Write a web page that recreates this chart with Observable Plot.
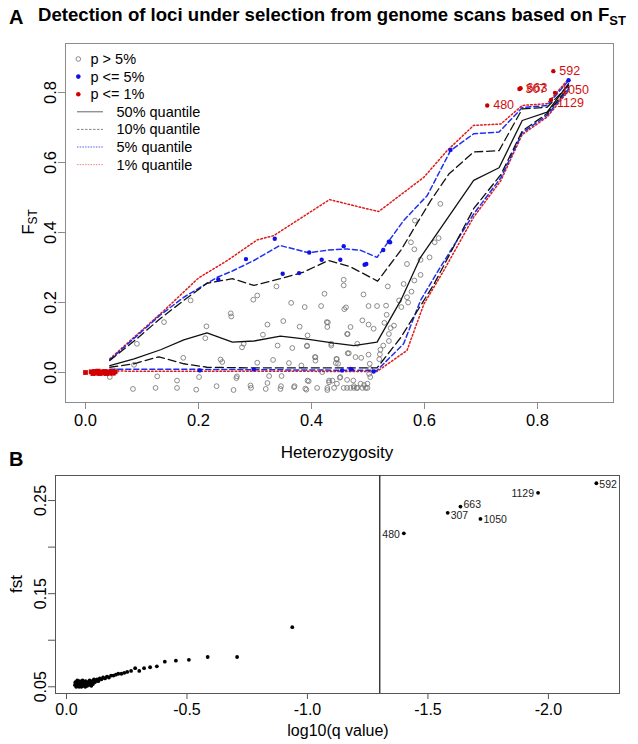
<!DOCTYPE html>
<html><head><meta charset="utf-8">
<script src="https://cdn.jsdelivr.net/npm/d3@7"></script>
<script src="https://cdn.jsdelivr.net/npm/@observablehq/plot@0.6"></script>
<style>
body{margin:0;background:#fff;}
#wrap{position:relative;width:638px;height:744px;font-family:"Liberation Sans",Arial,sans-serif;color:#000;overflow:hidden;background:#fff}
.abs{position:absolute;white-space:nowrap;line-height:1}
.abs sub{font-size:0.7em;vertical-align:-0.3em;line-height:0}
#wrap svg{position:absolute;left:0}
</style></head><body><div id="wrap"></div>
<script>
// ---------- Panel A data (heterozygosity, Fst) ----------
const xTicksA = [0, 0.2, 0.4, 0.6, 0.8];
const yTicksA = [0, 0.2, 0.4, 0.6, 0.8];

const q50 = [[0.043,0.02],[0.086,0.039],[0.133,0.065],[0.174,0.093],[0.215,0.113],[0.26,0.087],[0.298,0.09],[0.345,0.104],[0.398,0.094],[0.44,0.084],[0.475,0.077],[0.516,0.087],[0.558,0.206],[0.593,0.329],[0.687,0.549],[0.732,0.585],[0.773,0.72],[0.817,0.744],[0.855,0.825]];
const q10Upper = [[0.043,0.034],[0.086,0.09],[0.133,0.155],[0.174,0.206],[0.215,0.255],[0.26,0.268],[0.298,0.249],[0.345,0.268],[0.386,0.287],[0.43,0.32],[0.469,0.302],[0.517,0.261],[0.558,0.349],[0.611,0.491],[0.643,0.567],[0.687,0.63],[0.732,0.634],[0.773,0.753],[0.817,0.758],[0.855,0.82]];
const q10Lower = [[0.043,0.015],[0.086,0.025],[0.13,0.045],[0.174,0.025],[0.215,0.015],[0.3,0.013],[0.4,0.013],[0.516,0.013],[0.558,0.1],[0.617,0.253],[0.687,0.468],[0.735,0.565],[0.773,0.69],[0.817,0.74],[0.855,0.815]];
const q05Upper = [[0.043,0.036],[0.133,0.165],[0.174,0.215],[0.233,0.272],[0.26,0.29],[0.298,0.32],[0.344,0.363],[0.395,0.342],[0.43,0.35],[0.463,0.353],[0.487,0.349],[0.516,0.329],[0.563,0.434],[0.605,0.506],[0.646,0.634],[0.687,0.682],[0.732,0.687],[0.773,0.757],[0.817,0.763],[0.855,0.834]];
const q05Lower = [[0.043,0.009],[0.2,0.009],[0.3,0.008],[0.516,0.006],[0.563,0.082],[0.593,0.206],[0.628,0.301],[0.687,0.453],[0.735,0.556],[0.773,0.685],[0.817,0.735],[0.855,0.81]];
const q01Upper = [[0.043,0.039],[0.139,0.177],[0.2,0.27],[0.251,0.32],[0.304,0.379],[0.333,0.391],[0.432,0.494],[0.487,0.472],[0.519,0.46],[0.599,0.558],[0.64,0.634],[0.687,0.706],[0.735,0.71],[0.773,0.763],[0.817,0.768],[0.855,0.839]];
const q01Lower = [[0.043,0.004],[0.516,0.003],[0.569,0.063],[0.599,0.196],[0.634,0.291],[0.687,0.444],[0.735,0.548],[0.773,0.68],[0.817,0.73],[0.855,0.805]];

const lociNeutral = [
[0.186,0.206],[0.297,0.208],[0.304,0.22],[0.338,0.246],[0.364,0.199],[0.388,0.187],[0.417,0.19],[0.423,0.225],[0.457,0.265],[0.457,0.249],[0.461,0.186],[0.458,0.181],[0.492,0.223],[0.501,0.19],[0.516,0.19],[0.532,0.191],[0.535,0.246],
[0.429,0.143],[0.428,0.13],[0.469,0.13],[0.463,0.11],[0.49,0.149],[0.501,0.137],[0.51,0.125],[0.533,0.165],[0.529,0.142],[0.546,0.134],[0.537,0.11],[0.54,0.127],
[0.555,0.206],[0.559,0.187],[0.563,0.253],[0.569,0.215],[0.577,0.231],[0.582,0.263],[0.583,0.434],[0.576,0.372],[0.582,0.352],[0.569,0.31],[0.593,0.322],[0.609,0.329],[0.618,0.372],[0.625,0.384],[0.628,0.482],[0.593,0.279],[0.571,0.2],
[0.393,0.106],[0.392,0.077],[0.407,0.044],[0.407,0.034],[0.435,0.077],[0.444,0.039],[0.447,0.025],[0.466,0.055],[0.478,0.044],[0.488,0.042],[0.501,0.051],[0.503,0.025],[0.522,0.065],[0.521,0.052],[0.52,0.038],[0.527,0.077],[0.537,0.09],[0.504,0.01],[0.502,-0.004],[0.504,-0.013],[0.499,-0.032],[0.499,-0.044],
[0.389,-0.046],[0.393,-0.023],[0.41,-0.044],[0.419,0.001],[0.428,-0.044],[0.431,-0.023],[0.437,-0.023],[0.445,-0.032],[0.451,-0.013],[0.457,-0.044],[0.463,-0.044],[0.469,-0.044],[0.475,-0.044],[0.481,-0.044],[0.487,-0.032],[0.49,-0.044],[0.493,-0.036],[0.496,-0.044],
[0.257,0.169],[0.258,0.16],[0.139,0.144],[0.091,0.082],[0.214,0.132],[0.212,0.098],[0.173,0.042],[0.127,-0.011],[0.086,0.022],[0.043,-0.013],[0.084,-0.047],[0.124,-0.044],[0.162,-0.023],[0.162,-0.044],[0.196,-0.049],[0.201,-0.013],[0.232,-0.039],[0.239,0.037],[0.242,0.03],[0.262,-0.05],[0.267,-0.016],[0.268,-0.011],[0.277,0.072],[0.28,0.082],[0.292,-0.037],[0.293,-0.044],[0.304,0.028],[0.314,0.108],[0.319,-0.047],[0.322,0.137],[0.322,-0.03],[0.325,-0.01],[0.332,0.036],[0.34,0.077],[0.345,-0.047],[0.346,-0.039],[0.347,-0.01],[0.35,0.147],[0.36,0.027],[0.366,0.07],[0.369,-0.042],[0.37,-0.039],[0.379,0.131],[0.382,0.02],[0.391,-0.049],[0.392,0.075],[0.395,-0.025],[0.406,0.044],[0.427,0.144],[0.428,-0.05],[0.431,-0.028],[0.435,0.082],[0.44,-0.044],[0.443,0.027],[0.445,0.038],[0.45,-0.015],[0.463,-0.021],[0.464,0.055],[0.464,0.11],[0.474,-0.023],[0.475,-0.039],[0.48,-0.044],[0.481,0.082],
[0.05,0.0],[0.054,0.004]
];
const lociP05 = [[0.235,0.266],[0.284,0.324],[0.335,0.382],[0.349,0.282],[0.378,0.284],[0.396,0.343],[0.418,0.322],[0.451,0.322],[0.457,0.361],[0.494,0.308],[0.497,0.31],[0.527,0.35],[0.537,0.374],[0.539,0.372],[0.646,0.636],[0.855,0.835],[0.202,0.006],[0.298,0.009],[0.454,0.006],[0.469,0.01],[0.471,0.009],[0.51,0.003]];
const lociP01 = [[0.0,0.0],[0.01,0.002],[0.013,-0.003],[0.016,0.003],[0.019,-0.002],[0.022,0.004],[0.025,-0.003],[0.028,0.002],[0.031,-0.002],[0.034,0.003],[0.037,-0.003],[0.04,0.002],[0.043,-0.002],[0.046,0.003],[0.049,-0.002],[0.052,0.002]];
const outlierIds = ["480","307","663","592","1050","1129"];
const outlierH = [0.711,0.768,0.770,0.828,0.831,0.824];
const outlierF = [0.763,0.810,0.812,0.861,0.799,0.779];
const outlierShift = [0, 0, 0, 0, -3, 3];

// ---------- Panel B data (log10 q value, fst) ----------
const xTicksB = [0, -0.5, -1.0, -1.5, -2.0];
const yTicksB = [0.05, 0.10, 0.15, 0.20, 0.25];
const yLabelsB = [0.05, 0.15, 0.25];
const qThreshold = -1.3;
const bLogQ = [-0.035,-0.037,-0.04,-0.042,-0.045,-0.047,-0.05,-0.052,-0.055,-0.057,-0.06,-0.062,-0.065,-0.067,-0.07,-0.072,-0.075,-0.078,-0.08,-0.083,-0.086,-0.09,-0.093,-0.096,-0.1,-0.103,-0.106,-0.11,-0.114,-0.118,-0.122,-0.127,-0.132,-0.138,-0.145,-0.152,-0.16,-0.168,-0.176,-0.185,-0.195,-0.205,-0.215,-0.228,-0.24,-0.252,-0.268,-0.285,-0.302,-0.322,-0.347,-0.375,-0.408,-0.454,-0.508,-0.586,-0.708,-0.937];
const bFst  = [0.052,0.055,0.050,0.053,0.057,0.051,0.054,0.050,0.056,0.052,0.055,0.050,0.053,0.057,0.051,0.055,0.052,0.050,0.056,0.053,0.051,0.055,0.052,0.057,0.054,0.051,0.056,0.053,0.058,0.055,0.057,0.058,0.056,0.059,0.058,0.060,0.059,0.061,0.060,0.062,0.062,0.063,0.064,0.064,0.065,0.066,0.067,0.070,0.067,0.070,0.071,0.072,0.077,0.078,0.079,0.082,0.082,0.114];
const bOutIds = ["480","307","663","1050","1129","592"];
const bOutLogQ = [-1.40,-1.582,-1.635,-1.718,-1.957,-2.199];
const bOutFst = [0.2148,0.2368,0.2435,0.2303,0.2583,0.2686];
const bOutSide = ["left","right","right","right","left","right"];
const bOutShift = [1, 3, -2, 1, 1, 1];

// ---------- build ----------
const wrap = document.getElementById("wrap");
const FONT = '"Liberation Sans", Arial, sans-serif';
const pair = a => a.map(d => ({h: d[0], f: d[1]}));

const lineStyles = [
  {data: q01Upper, stroke: "#e01b1b", dash: "1.6,2.2", w: 1.5},
  {data: q01Lower, stroke: "#e01b1b", dash: "1.6,2.2", w: 1.5},
  {data: q05Upper, stroke: "#1f2ff0", dash: "5,3", w: 1.5},
  {data: q05Lower, stroke: "#1f2ff0", dash: "5,3", w: 1.5},
  {data: q10Upper, stroke: "#111", dash: "8,4", w: 1.3},
  {data: q10Lower, stroke: "#111", dash: "8,4", w: 1.3},
  {data: q50, stroke: "#111", dash: null, w: 1.3}
];

const outliers = outlierIds.map((id, i) => ({id, h: outlierH[i], f: outlierF[i], s: outlierShift[i]}));

const chartA = Plot.plot({
  width: 638, height: 440,
  marginTop: 43, marginLeft: 65, marginRight: 25, marginBottom: 38,
  style: {fontFamily: FONT, fontSize: "16.5px", background: "transparent", color: "#000"},
  x: {domain: [-0.0354, 0.9345], label: null},
  y: {domain: [-0.0857, 0.94], label: null},
  marks: [
    Plot.frame({stroke: "#8c8c8c"}),
    Plot.axisX(xTicksA, {tickSize: 7, tickPadding: 5, stroke: "#8c8c8c", tickFormat: d => d.toFixed(1), label: null}),
    Plot.axisY(yTicksA, {tickSize: 7, tickRotate: -90, stroke: "#8c8c8c", tickFormat: d => d.toFixed(1), label: null}),
    Plot.dot(pair(lociNeutral), {x: "h", y: "f", r: 2.4, stroke: "#6e6e6e", strokeWidth: 0.8, fill: "none"}),
    ...lineStyles.map(s => Plot.line(pair(s.data), {x: "h", y: "f", stroke: s.stroke, strokeWidth: s.w, strokeDasharray: s.dash})),
    Plot.dot(pair(lociP05), {x: "h", y: "f", r: 2.2, fill: "#1010e8"}),
    Plot.dot(pair(lociP01), {x: "h", y: "f", r: 2.7, fill: "#d40000", symbol: "square"}),
    Plot.dot(outliers, {x: "h", y: "f", r: 2.2, fill: "#c80000"}),
    ...outliers.map(d => Plot.text([d], {x: "h", y: "f", text: "id", dx: 6, dy: d.s, textAnchor: "start", fill: "#d01010", fontSize: 12.5}))
  ]
});
chartA.style.top = "0px";
wrap.appendChild(chartA);

const bPts = bLogQ.map((v, i) => ({v, f: bFst[i]}));
const bOut = bOutIds.map((id, i) => ({id, v: bOutLogQ[i], f: bOutFst[i], side: bOutSide[i], s: bOutShift[i]}));

const chartB = Plot.plot({
  width: 638, height: 284,
  marginTop: 15, marginLeft: 55, marginRight: 19, marginBottom: 51,
  style: {fontFamily: FONT, fontSize: "16px", background: "transparent", color: "#000"},
  x: {domain: [0.0456, -2.295], label: null},
  y: {domain: [0.0428, 0.2769], label: null},
  marks: [
    Plot.frame({stroke: "#555"}),
    Plot.axisX(xTicksB, {tickSize: 6, tickPadding: 4, stroke: "#555", tickFormat: d => d.toFixed(1), label: null}),
    Plot.axisY(yTicksB, {tickSize: 7, tickRotate: -90, stroke: "#555", tickFormat: d => yLabelsB.includes(d) ? d.toFixed(2) : "", label: null}),
    Plot.ruleX([qThreshold], {stroke: "#333", strokeWidth: 1.4}),
    Plot.dot(bPts, {x: "v", y: "f", r: 1.9, fill: "#000"}),
    Plot.dot(bOut, {x: "v", y: "f", r: 1.9, fill: "#000"}),
    ...bOut.map(d => Plot.text([d], {x: "v", y: "f", text: "id", dx: d.side === "right" ? 3 : -4, dy: d.s, textAnchor: d.side === "right" ? "start" : "end", fontSize: 10.5, fill: "#222"}))
  ]
});
chartB.style.top = "460px";
wrap.appendChild(chartB);

// ---------- text outside the SVGs ----------
function addText(html, css) {
  const d = document.createElement("div");
  d.className = "abs";
  d.innerHTML = html;
  Object.assign(d.style, css);
  wrap.appendChild(d);
  return d;
}
addText("A", {left: "9px", top: "7px", fontWeight: "bold", fontSize: "20px"});
addText("Detection of loci under selection from genome scans based on F<sub>ST</sub>", {left: "38px", top: "6px", fontWeight: "bold", fontSize: "18.6px"});
addText("F<sub>ST</sub>", {left: "28px", top: "222px", fontSize: "17px", transform: "translate(-50%,-50%) rotate(-90deg)"});
addText("Heterozygosity", {left: "337px", top: "452px", fontSize: "17px", transform: "translate(-50%,-50%)"});
addText("B", {left: "9px", top: "449px", fontWeight: "bold", fontSize: "20px"});
addText("fst", {left: "16px", top: "584px", fontSize: "17px", transform: "translate(-50%,-50%) rotate(-90deg)"});
addText("log10(q value)", {left: "338px", top: "731px", fontSize: "16px", transform: "translate(-50%,-50%)"});

// ---------- legend of panel A ----------
const legendRows = [
  {type: "dot", label: "p > 5%", fill: "none", stroke: "#6e6e6e"},
  {type: "dot", label: "p <= 5%", fill: "#1010e8", stroke: "none"},
  {type: "dot", label: "p <= 1%", fill: "#d40000", stroke: "none"},
  {type: "line", label: "50% quantile", stroke: "#555", dash: null},
  {type: "line", label: "10% quantile", stroke: "#777", dash: "2.5,1.5"},
  {type: "line", label: "5% quantile", stroke: "#4a4af0", dash: "1.5,1.2"},
  {type: "line", label: "1% quantile", stroke: "#f07a7a", dash: "1.5,1.2"}
];
const leg = d3.create("svg").attr("width", 260).attr("height", 180)
  .style("position", "absolute").style("left", "0px").style("top", "0px")
  .attr("font-family", FONT).attr("font-size", 14.5);
legendRows.forEach((r, i) => {
  const y = 59 + i * 17.6;
  if (r.type === "dot") {
    leg.append("circle").attr("cx", 78.3).attr("cy", y).attr("r", 2.3)
      .attr("fill", r.fill).attr("stroke", r.stroke).attr("stroke-width", 0.8);
    leg.append("text").attr("x", 90.5).attr("y", y).attr("dy", "0.35em").text(r.label);
  } else {
    leg.append("line").attr("x1", 77).attr("x2", 103).attr("y1", y).attr("y2", y)
      .attr("stroke", r.stroke).attr("stroke-width", 0.9).attr("stroke-dasharray", r.dash);
    leg.append("text").attr("x", 116.5).attr("y", y).attr("dy", "0.35em").text(r.label);
  }
});
wrap.appendChild(leg.node());
</script></body></html>
